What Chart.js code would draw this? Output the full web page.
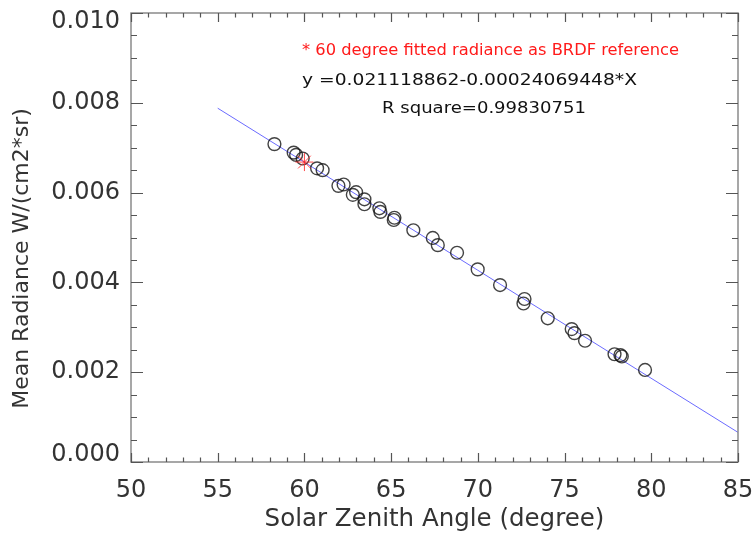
<!DOCTYPE html>
<html>
<head>
<meta charset="utf-8">
<script src="https://cdn.jsdelivr.net/npm/chart.js@4.4.0/dist/chart.umd.min.js"></script>
<style>
html,body{margin:0;padding:0;background:#fff;}
#wrap{width:752px;height:534px;position:relative;}
</style>
</head>
<body>
<div id="wrap"><canvas id="c" width="752" height="534"></canvas></div>
<script>
// Observed points (solar zenith angle in degrees, mean radiance)
const zenithAngles = [58.27, 59.38, 59.52, 59.90, 60.73, 61.05, 61.96, 62.26, 62.79, 62.98,
  63.46, 63.46, 64.32, 64.38, 65.19, 65.15, 66.28, 67.40, 67.69, 68.80,
  69.99, 71.28, 72.69, 72.63, 74.03, 75.41, 75.57, 76.18, 77.88, 78.22, 78.30, 79.64];
const meanRadiance = [0.00708, 0.00689, 0.00684, 0.00676, 0.00654, 0.00650, 0.00615, 0.00618, 0.00595, 0.00601,
  0.00585, 0.00574, 0.00565, 0.00557, 0.00544, 0.00539, 0.00516, 0.00499, 0.00483, 0.00466,
  0.00429, 0.00394, 0.00363, 0.00353, 0.00320, 0.00296, 0.00287, 0.00270, 0.00240, 0.00238, 0.00235, 0.00205];
// Fitted line end points
const fitX = [55, 85];
const fitY = [0.00788, 0.00066];
// 60 degree reference
const refX = [60];
const refY = [0.00668];
// Axis ticks
const xTicks = [50, 55, 60, 65, 70, 75, 80, 85];
const yTicks = [0.000, 0.002, 0.004, 0.006, 0.008, 0.010];
const annotations = [
  "* 60 degree fitted radiance as BRDF reference",
  "y =0.021118862-0.00024069448*X",
  "R square=0.99830751"
];

const toPts = (xs, ys) => xs.map((x, i) => ({x: x, y: ys[i]}));

const FONT = "'DejaVu Sans', sans-serif";
const AXC = '#8a8a8a';

const boxTicks = {
  id: 'boxTicks',
  afterDraw(chart) {
    const {ctx, chartArea: a, scales} = chart;
    const xs = scales.x, ys = scales.y;
    ctx.save();
    ctx.strokeStyle = AXC;
    ctx.lineWidth = 1.5;
    ctx.strokeRect(a.left, a.top, a.right - a.left, a.bottom - a.top);
    ctx.lineWidth = 1.2;
    ctx.strokeStyle = '#555';
    for (let v = 50; v <= 85; v += 1) {
      const px = Math.round(xs.getPixelForValue(v)) + 0.5;
      const len = (v % 5 === 0) ? 9 : 4.5;
      ctx.beginPath();
      ctx.moveTo(px, a.bottom); ctx.lineTo(px, a.bottom - len);
      ctx.moveTo(px, a.top); ctx.lineTo(px, a.top + len);
      ctx.stroke();
    }
    for (let k = 0; k <= 20; k++) {
      const v = k * 0.0005;
      const py = Math.round(ys.getPixelForValue(v)) + 0.5;
      const len = (k % 4 === 0) ? 12 : 6;
      ctx.beginPath();
      ctx.moveTo(a.left, py); ctx.lineTo(a.left + len, py);
      ctx.moveTo(a.right, py); ctx.lineTo(a.right - len, py);
      ctx.stroke();
    }
    // annotations (horizontally scaled to the reference widths)
    const specs = [
      {t: annotations[0], x: a.left + 171, y: a.top + 38, w: 377, c: '#ff1a1a'},
      {t: annotations[1], x: a.left + 171, y: a.top + 68, w: 335, c: '#111'},
      {t: annotations[2], x: a.left + 251, y: a.top + 96, w: 204, c: '#111'}
    ];
    ctx.font = "15.5px " + FONT;
    ctx.textBaseline = 'middle';
    ctx.textAlign = 'left';
    specs.forEach(s => {
      const mw = ctx.measureText(s.t).width;
      ctx.save();
      ctx.translate(s.x, s.y);
      ctx.scale(s.w / mw, 1);
      ctx.fillStyle = s.c;
      ctx.fillText(s.t, 0, 0);
      ctx.restore();
    });
    ctx.restore();
  }
};

const yLabel = v => Number(v).toFixed(3);

new Chart(document.getElementById('c'), {
  type: 'scatter',
  data: {
    datasets: [
      {
        type: 'line',
        data: toPts(fitX, fitY),
        borderColor: '#6b6bff',
        borderWidth: 1,
        pointRadius: 0,
        fill: false,
        order: 3
      },
      {
        data: toPts(zenithAngles, meanRadiance),
        pointStyle: 'circle',
        pointRadius: 6.4,
        borderColor: 'rgba(20,20,20,0.8)',
        borderWidth: 1.4,
        backgroundColor: 'rgba(0,0,0,0)',
        order: 2
      },
      {
        data: toPts(refX, refY),
        pointStyle: 'star',
        pointRadius: 9,
        borderColor: 'rgba(255,40,40,0.85)',
        borderWidth: 1,
        backgroundColor: 'rgba(0,0,0,0)',
        order: 1
      }
    ]
  },
  options: {
    responsive: false,
    animation: false,
    layout: {padding: {top: 13, right: 14, left: 0, bottom: 0}},
    plugins: {legend: {display: false}, tooltip: {enabled: false}},
    scales: {
      x: {
        type: 'linear', min: 50, max: 85,
        afterBuildTicks: s => { s.ticks = xTicks.map(v => ({value: v})); },
        afterFit: s => { s.height = 72; s.paddingLeft = 0; s.paddingRight = 0; },
        grid: {display: false, drawTicks: false},
        border: {display: false},
        ticks: {font: {family: FONT, size: 24}, color: '#333', padding: 14, maxRotation: 0},
        title: {display: true, text: 'Solar Zenith Angle (degree)', font: {family: FONT, size: 24.5}, color: '#333', padding: {top: 0, bottom: 0}}
      },
      y: {
        type: 'linear', min: 0, max: 0.010,
        afterBuildTicks: s => { s.ticks = yTicks.map(v => ({value: v})); },
        afterFit: s => { s.width = 131; s.paddingTop = 0; s.paddingBottom = 0; },
        grid: {display: false, drawTicks: false},
        border: {display: false},
        ticks: {
          font: ctx => ({family: FONT, size: 24, lineHeight: (ctx.index === 0 ? '14px' : (ctx.index === yTicks.length - 1 ? '18px' : 1.2))}),
          color: '#333', padding: 11,
          callback: (v, i) => i === 0 ? [yLabel(v), ''] : (i === yTicks.length - 1 ? ['', yLabel(v)] : yLabel(v))
        },
        title: {display: true, text: 'Mean Radiance W/(cm2*sr)      ', font: {family: FONT, size: 22}, color: '#333', padding: {top: 9, bottom: 0}}
      }
    }
  },
  plugins: [boxTicks]
});
</script>
</body>
</html>
